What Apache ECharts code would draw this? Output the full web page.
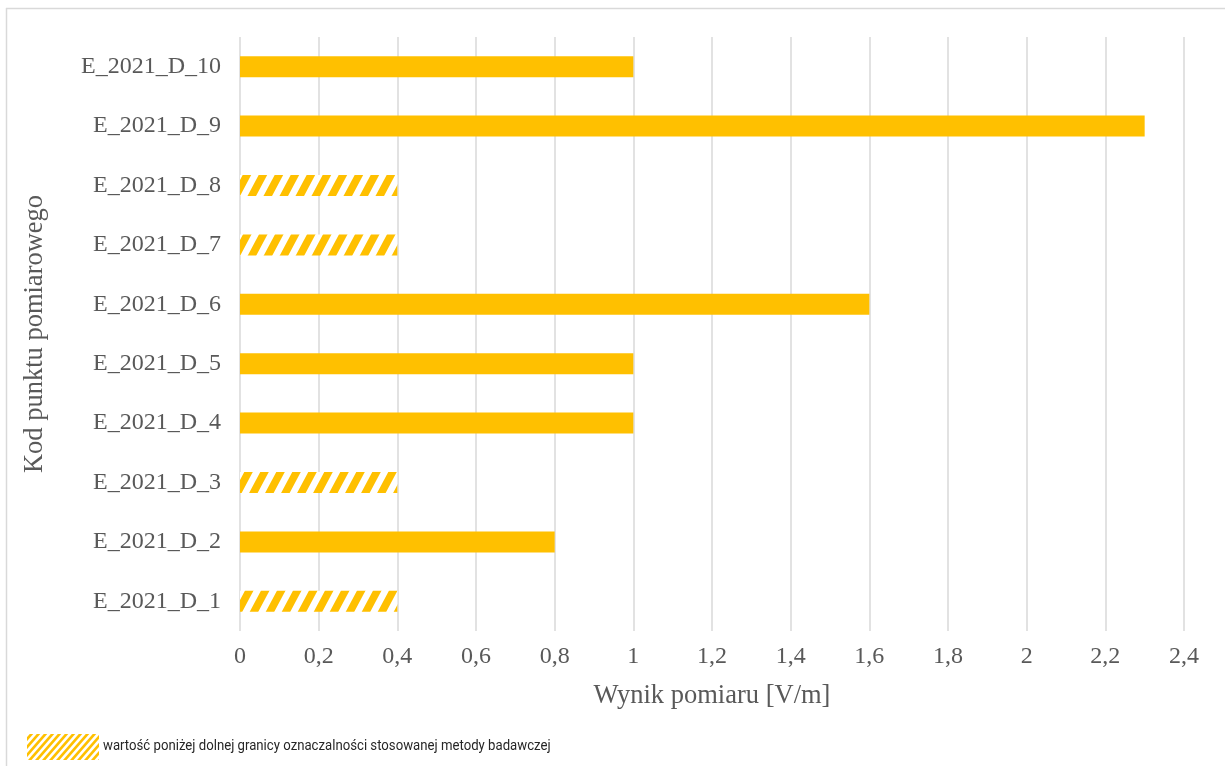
<!DOCTYPE html>
<html>
<head>
<meta charset="utf-8">
<script src="https://cdn.jsdelivr.net/npm/echarts@6/dist/echarts.min.js"></script>
<style>
html,body{margin:0;padding:0;background:#fff;}
#chart{width:1225px;height:766px;}
</style>
</head>
<body>
<div id="chart"></div>
<script>
// ---- data ----
const categories = ['E_2021_D_1','E_2021_D_2','E_2021_D_3','E_2021_D_4','E_2021_D_5','E_2021_D_6','E_2021_D_7','E_2021_D_8','E_2021_D_9','E_2021_D_10'];
const values = [0.4, 0.8, 0.4, 1, 1, 1.6, 0.4, 0.4, 2.3, 1];
const belowLimit = [true, false, true, false, false, false, true, true, false, false];
const xTicks = ['0','0,2','0,4','0,6','0,8','1','1,2','1,4','1,6','1,8','2','2,2','2,4'];
const xAxisTitle = 'Wynik pomiaru [V/m]';
const yAxisTitle = 'Kod punktu pomiarowego';
const legendText = 'wartość poniżej dolnej granicy oznaczalności stosowanej metody badawczej';

// ---- hatch pattern ----
const YELLOW = '#FFC000';
function makeHatch(w, h, t) {
  const c = document.createElement('canvas');
  c.width = w; c.height = h;
  const ctx = c.getContext('2d');
  ctx.fillStyle = '#ffffff';
  ctx.fillRect(0, 0, w, h);
  ctx.fillStyle = YELLOW;
  for (let k = -2; k <= 1; k++) {
    ctx.beginPath();
    ctx.moveTo(k * w, h);
    ctx.lineTo(k * w + t, h);
    ctx.lineTo(k * w + w + t, 0);
    ctx.lineTo(k * w + w, 0);
    ctx.closePath();
    ctx.fill();
  }
  return c;
}
const hatchFill = { image: makeHatch(16, 30, 8.5), repeat: 'repeat' };
const legendFill = { image: makeHatch(7, 8, 3.5), repeat: 'repeat' };

const seriesData = values.map((v, i) => belowLimit[i]
  ? { value: v, itemStyle: { color: hatchFill } }
  : { value: v });

const grey = '#595959';
const serif = "'Liberation Serif','Times New Roman',serif";

const chart = echarts.init(document.getElementById('chart'), null, { renderer: 'canvas' });
chart.setOption({
  backgroundColor: '#ffffff',
  animation: false,
  grid: { left: 240, right: 41, top: 37, bottom: 135, outerBoundsMode: 'none', containLabel: false },
  xAxis: {
    type: 'value',
    min: 0, max: 2.4, interval: 0.2,
    axisLine: { show: false },
    axisTick: { show: false },
    splitLine: { show: true, lineStyle: { color: '#d9d9d9', width: 1.5 } },
    axisLabel: {
      margin: 14,
      color: grey, fontFamily: serif, fontSize: 24,
      formatter: (v) => xTicks[Math.round(v / 0.2)]
    },
    name: xAxisTitle,
    nameLocation: 'middle',
    nameGap: 52,
    nameTextStyle: { color: grey, fontFamily: serif, fontSize: 26.5 }
  },
  yAxis: {
    type: 'category',
    data: categories,
    axisLine: { show: false },
    axisTick: { show: false },
    splitLine: { show: false },
    axisLabel: { margin: 19, color: grey, fontFamily: serif, fontSize: 24 },
    name: yAxisTitle,
    nameLocation: 'middle',
    nameGap: 191,
    nameTextStyle: { color: grey, fontFamily: serif, fontSize: 26.5 }
  },
  series: [{
    type: 'bar',
    data: seriesData,
    barWidth: 21,
    itemStyle: { color: YELLOW },
    silent: true
  }],
  graphic: [
    { type: 'line', shape: { x1: 6.5, y1: 8, x2: 6.5, y2: 766 }, style: { stroke: '#d9d9d9', lineWidth: 1.5 } },
    { type: 'line', shape: { x1: 6, y1: 8.5, x2: 1225, y2: 8.5 }, style: { stroke: '#d9d9d9', lineWidth: 1.5 } },
    { type: 'rect', shape: { x: 27, y: 734, width: 72, height: 26 }, style: { fill: legendFill } },
    { type: 'text', x: 103, y: 746, scaleX: 0.85, style: { text: legendText, fill: '#262626', font: "15.5px 'Roboto','Liberation Sans',sans-serif", verticalAlign: 'middle' } }
  ]
});
</script>
</body>
</html>
